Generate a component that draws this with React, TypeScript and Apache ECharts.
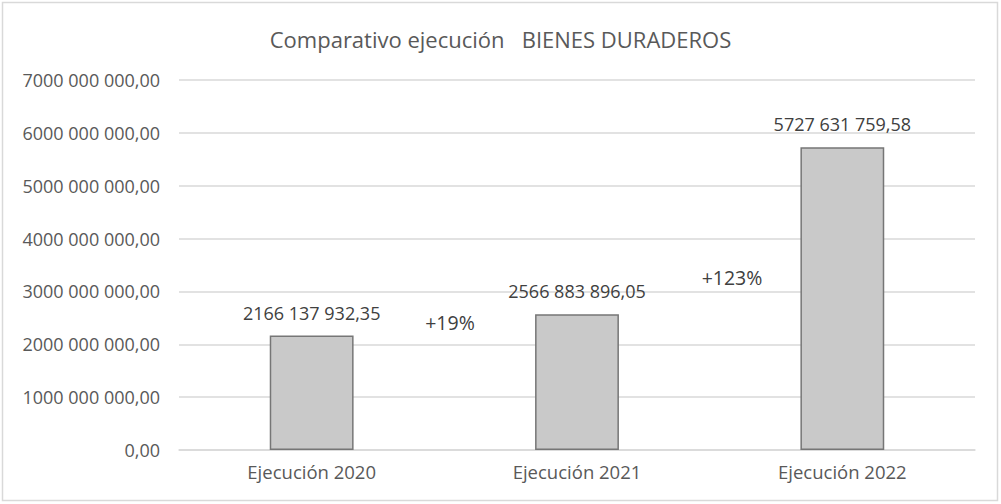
import React, { useEffect, useRef } from "react";
import * as echarts from "echarts";

const categories = ["Ejecución 2020", "Ejecución 2021", "Ejecución 2022"];
const values = [2166137932.35, 2566883896.05, 5727631759.58];
const growthLabels = ["+19%", "+123%"];
const titleText = "Comparativo ejecución   BIENES DURADEROS";

const FONT = "'Open Sans', 'Noto Sans', sans-serif";
const TEXT_COLOR = "#595959";

function fmt(v: number): string {
  const [ip, dp] = v.toFixed(2).split(".");
  const withSpaces = ip.replace(/\B(?=(\d{3})+(?!\d))/g, " ").replace(/^(\d) (\d{3})/, "$1$2");
  return withSpaces + "," + dp;
}

export default function App() {
  const ref = useRef<HTMLDivElement>(null);
  useEffect(() => {
    document.body.style.margin = "0";
    const chart = echarts.init(ref.current!, null, { renderer: "svg" });
    chart.setOption({
      animation: false,
      backgroundColor: "#ffffff",
      title: {
        text: titleText,
        left: "center",
        top: 23,
        textStyle: { fontFamily: FONT, fontSize: 22, fontWeight: "normal", color: TEXT_COLOR },
      },
      grid: { left: 179, right: 26, top: 80, bottom: 54, containLabel: false },
      xAxis: {
        type: "category",
        data: categories,
        axisLine: { show: true, lineStyle: { color: "#d9d9d9", width: 1.5 } },
        axisTick: { show: false },
        axisLabel: { fontFamily: FONT, fontSize: 18.5, color: TEXT_COLOR, margin: 12 },
      },
      yAxis: {
        type: "value",
        min: 0,
        max: 7000000000,
        interval: 1000000000,
        axisLine: { show: false },
        axisTick: { show: false },
        splitLine: { lineStyle: { color: "#d9d9d9", width: 1.5 } },
        axisLabel: {
          fontFamily: FONT,
          fontSize: 18,
          color: TEXT_COLOR,
          margin: 19,
          formatter: (v: number) => fmt(v),
        },
      },
      series: [
        {
          type: "bar",
          data: values,
          barWidth: "31.6%",
          itemStyle: { color: "#c9c9c9", borderColor: "#767676", borderWidth: 1.5 },
          label: {
            show: true,
            position: "top",
            distance: 14,
            fontFamily: FONT,
            fontSize: 18,
            color: "#404040",
            formatter: (p: any) => fmt(p.value),
          },
        },
      ],
      graphic: [
        {
          type: "rect",
          shape: { x: 2.5, y: 2.5, width: 995, height: 498 },
          style: { fill: "none", stroke: "#d9d9d9", lineWidth: 1.5 },
          silent: true,
        },
        {
          type: "text",
          x: 450,
          y: 322,
          style: { text: growthLabels[0], fontFamily: FONT, fontSize: 19.5, fill: "#404040", align: "center", verticalAlign: "middle" },
        },
        {
          type: "text",
          x: 732,
          y: 277,
          style: { text: growthLabels[1], fontFamily: FONT, fontSize: 19.5, fill: "#404040", align: "center", verticalAlign: "middle" },
        },
      ],
    });
    return () => chart.dispose();
  }, []);
  return <div ref={ref} style={{ width: 1001, height: 504 }} />;
}
